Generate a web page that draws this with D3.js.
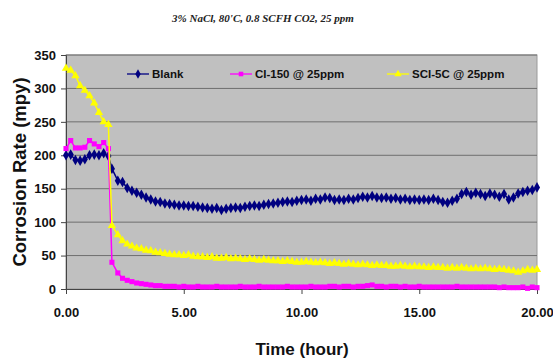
<!DOCTYPE html>
<html>
<head>
<meta charset="utf-8">
<script src="https://cdn.jsdelivr.net/npm/d3@7"></script>
<style>
  html, body { margin: 0; padding: 0; background: #fff; }
  svg { display: block; }
</style>
</head>
<body>
<svg id="chart" width="553" height="360"></svg>
<script>
// Sample times (hours)
const hours = [
  0, 0.2, 0.4, 0.6, 0.8, 1.0, 1.2, 1.4, 1.6, 1.8,
  1.95, 2.2, 2.4, 2.6, 2.8, 3.0, 3.2, 3.4, 3.6, 3.8,
  4.0, 4.2, 4.4, 4.6, 4.8, 5.0, 5.2, 5.4, 5.6, 5.8,
  6.0, 6.2, 6.4, 6.6, 6.8, 7.0, 7.2, 7.4, 7.6, 7.8,
  8.0, 8.2, 8.4, 8.6, 8.8, 9.0, 9.2, 9.4, 9.6, 9.8,
  10.0, 10.2, 10.4, 10.6, 10.8, 11.0, 11.2, 11.4, 11.6, 11.8,
  12.0, 12.2, 12.4, 12.6, 12.8, 13.0, 13.2, 13.4, 13.6, 13.8,
  14.0, 14.2, 14.4, 14.6, 14.8, 15.0, 15.2, 15.4, 15.6, 15.8,
  16.0, 16.2, 16.4, 16.6, 16.8, 17.0, 17.2, 17.4, 17.6, 17.8,
  18.0, 18.2, 18.4, 18.6, 18.8, 19.0, 19.2, 19.4, 19.6, 19.8,
  20.0
];

// Corrosion rate (mpy)
const blank = [
  200, 201, 193, 192, 194, 200, 201, 200, 203, 199,
  180, 162, 160, 151, 147, 144, 141, 137, 134, 131,
  130, 128, 127, 126, 125, 125, 124, 124, 123, 122,
  121, 120, 121, 118, 120, 121, 122, 121, 123, 124,
  125, 124, 126, 127, 128, 129, 130, 131, 130, 132,
  133, 134, 132, 135, 134, 137, 136, 133, 134, 133,
  135, 134, 136, 138, 137, 139, 137, 136, 137, 135,
  136, 134, 135, 133, 134, 133, 134, 133, 135, 133,
  130, 129, 132, 135, 142, 145, 141, 144, 142, 139,
  143, 141, 138, 142, 134, 137, 143, 145, 147, 148,
  152
];
const ci150 = [
  210, 222, 211, 211, 212, 222, 217, 213, 219, 210,
  40, 24, 16, 13, 11, 9, 8, 7, 6, 5,
  5, 4, 4, 4, 3, 4, 3, 3, 4, 3,
  3, 3, 4, 3, 3, 3, 3, 4, 3, 3,
  3, 4, 3, 3, 3, 3, 3, 4, 3, 3,
  3, 3, 4, 3, 3, 3, 4, 4, 3, 4,
  4, 3, 4, 4, 5, 6, 4, 4, 3, 4,
  4, 3, 4, 3, 3, 4, 3, 3, 3, 3,
  3, 3, 3, 4, 3, 3, 3, 3, 3, 3,
  3, 3, 2, 3, 2, 2, 2, 3, 1, 3,
  2
];
const sci5c = [
  330, 327, 319, 304, 297, 289, 278, 264, 250, 246,
  95, 81, 72, 67, 64, 61, 60, 58, 57, 55,
  54, 53, 52, 51, 51, 50, 51, 49, 48, 48,
  47, 48, 46, 46, 47, 45, 46, 45, 44, 45,
  44, 43, 44, 43, 42, 42, 41, 42, 41, 40,
  40, 41, 40, 39, 40, 39, 38, 39, 38, 37,
  38, 37, 36, 37, 36, 35, 36, 35, 35, 34,
  34, 35, 34, 33, 34, 33, 33, 32, 33, 32,
  32, 31, 32, 31, 32, 31, 30, 31, 30, 31,
  30, 29, 30, 29, 28, 27, 25, 27, 29, 28,
  29
];

const xTicks = [0, 5, 10, 15, 20];
const yTicks = [0, 50, 100, 150, 200, 250, 300, 350];

const series = [
  { name: 'Blank',          values: blank, colour: '#000080', symbol: d3.symbolDiamond,  size: 32 },
  { name: 'CI-150 @ 25ppm', values: ci150, colour: '#ff00ff', symbol: d3.symbolSquare,   size: 26 },
  { name: 'SCI-5C @ 25ppm', values: sci5c, colour: '#ffff00', symbol: d3.symbolTriangle, size: 30 }
];

const svg = d3.select('#chart');
const plotL = 66, plotR = 537, plotT = 55, plotB = 289;

const x = d3.scaleLinear().domain([0, 20]).range([plotL, plotR]);
const y = d3.scaleLinear().domain([0, 350]).range([plotB, plotT]);

// Title
svg.append('text')
  .attr('x', 263).attr('y', 22)
  .attr('text-anchor', 'middle')
  .attr('font-family', "'Liberation Serif', 'Times New Roman', serif")
  .attr('font-style', 'italic').attr('font-weight', 'bold')
  .attr('font-size', '11px')
  .attr('fill', '#222')
  .text("3% NaCl, 80'C, 0.8 SCFH CO2, 25 ppm");

// Plot area
svg.append('rect')
  .attr('x', plotL).attr('y', plotT)
  .attr('width', plotR - plotL).attr('height', plotB - plotT)
  .attr('fill', '#c0c0c0')
  .attr('stroke', '#9a9a9a').attr('stroke-width', 1);

// Gridlines
svg.append('g')
  .selectAll('line')
  .data(yTicks.filter(d => d > 0))
  .enter().append('line')
  .attr('x1', plotL).attr('x2', plotR)
  .attr('y1', d => y(d)).attr('y2', d => y(d))
  .attr('stroke', '#6e6e6e').attr('stroke-width', 1);

// Axes
const yAxis = svg.append('g')
  .attr('transform', `translate(${plotL},0)`)
  .call(d3.axisLeft(y).tickValues(yTicks).tickSize(5).tickPadding(5).tickFormat(d3.format('d')));
const xAxis = svg.append('g')
  .attr('transform', `translate(0,${plotB})`)
  .call(d3.axisBottom(x).tickValues(xTicks).tickSize(5).tickPadding(14).tickFormat(d3.format('.2f')));

[yAxis, xAxis].forEach(g => {
  g.select('.domain').attr('stroke', '#444');
  g.selectAll('.tick line').attr('stroke', '#444');
  g.selectAll('text')
    .attr('font-family', "'Liberation Sans', Arial, sans-serif")
    .attr('font-weight', 'bold')
    .attr('font-size', '13px')
    .attr('fill', '#111');
});

// Axis titles
svg.append('text')
  .attr('transform', 'translate(26,172) rotate(-90)')
  .attr('text-anchor', 'middle')
  .attr('font-family', "'Liberation Sans', Arial, sans-serif")
  .attr('font-weight', 'bold').attr('font-size', '18.5px')
  .attr('fill', '#111')
  .text('Corrosion Rate (mpy)');

svg.append('text')
  .attr('x', 302).attr('y', 355)
  .attr('text-anchor', 'middle')
  .attr('font-family', "'Liberation Sans', Arial, sans-serif")
  .attr('font-weight', 'bold').attr('font-size', '17px')
  .attr('fill', '#111')
  .text('Time (hour)');

// Series lines + markers
const line = d3.line().x((d, i) => x(hours[i])).y(d => y(d));

series.forEach(s => {
  const g = svg.append('g');
  g.append('path')
    .datum(s.values)
    .attr('d', line)
    .attr('fill', 'none')
    .attr('stroke', s.colour)
    .attr('stroke-width', 1.5);
  g.selectAll('path.m')
    .data(s.values).enter().append('path')
    .attr('class', 'm')
    .attr('transform', (d, i) => `translate(${x(hours[i])},${y(d)})`)
    .attr('d', d3.symbol().type(s.symbol).size(s.size))
    .attr('fill', s.colour);
});

// Legend
const legendX = [127, 230, 387];
const legend = svg.append('g');
series.forEach((s, i) => {
  const lg = legend.append('g').attr('transform', `translate(${legendX[i]},74)`);
  lg.append('line').attr('x1', 0).attr('x2', 22).attr('y1', 0).attr('y2', 0)
    .attr('stroke', s.colour).attr('stroke-width', 1.3);
  lg.append('path').attr('transform', 'translate(11,0)')
    .attr('d', d3.symbol().type(s.symbol).size(s.size * 0.8)).attr('fill', s.colour);
  lg.append('text')
    .attr('x', 25).attr('y', 4)
    .attr('font-family', "'Liberation Sans', Arial, sans-serif")
    .attr('font-weight', 'bold').attr('font-size', '11.5px')
    .attr('fill', '#111')
    .text(s.name);
});
</script>
</body>
</html>
